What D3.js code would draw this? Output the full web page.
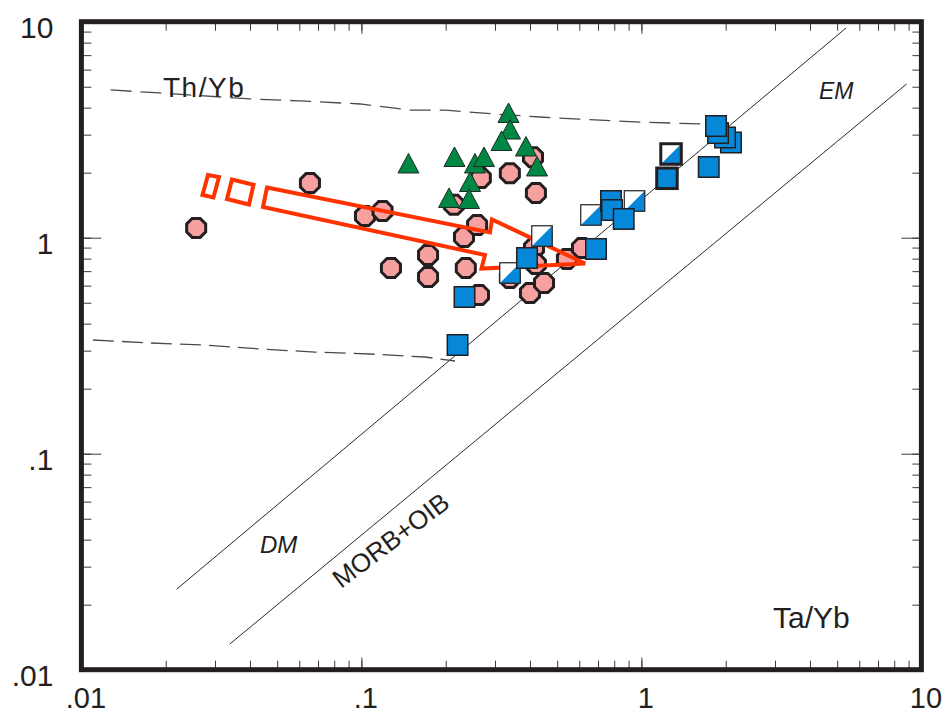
<!DOCTYPE html>
<html>
<head>
<meta charset="utf-8">
<script src="https://cdn.jsdelivr.net/npm/d3@7"></script>
<style>
  html, body { margin: 0; padding: 0; background: #fff; }
  svg { display: block; font-family: "Liberation Sans", Arial, sans-serif; }
</style>
</head>
<body>
<svg id="chart" width="950" height="716"></svg>
<script>
// ---- Ta/Yb vs Th/Yb data ----------------------------------------------
// octagons: [Ta/Yb, Th/Yb]
const octagonSamples = [
  [0.0257, 1.11], [0.0655, 1.79], [0.103, 1.26], [0.119, 1.33],
  [0.1275, 0.724], [0.173, 0.832], [0.173, 0.658], [0.214, 1.42],
  [0.2325, 1.007], [0.259, 1.145], [0.236, 0.724], [0.267, 1.89],
  [0.339, 1.99], [0.410, 2.36], [0.420, 1.61], [0.263, 0.543],
  [0.339, 0.651], [0.400, 0.555], [0.449, 0.617], [0.4135, 0.896],
  [0.420, 0.755], [0.542, 0.797], [0.6135, 0.896]
];

// triangles: [Ta/Yb, Th/Yb]
const triangleSamples = [
  [0.1473, 2.194], [0.2150, 2.351], [0.2545, 2.194], [0.2741, 2.351],
  [0.2443, 1.801], [0.2056, 1.519], [0.2423, 1.503], [0.3353, 3.758],
  [0.3394, 3.151], [0.3166, 2.789], [0.3871, 2.630], [0.4238, 2.125]
];

// filled squares: [Ta/Yb, Th/Yb]
const squareSamples = [
  [2.089, 2.759], [1.989, 2.910], [1.878, 3.052], [1.847, 3.289],
  [1.740, 2.125], [0.7787, 1.479], [0.7852, 1.343], [0.8646, 1.221],
  [0.6885, 0.8866], [0.3903, 0.8054], [0.2335, 0.5315], [0.2205, 0.3186]
];
// filled squares with heavy outline
const squareBoldSamples = [[1.234, 1.884]];

// half-filled squares: [Ta/Yb, Th/Yb]
const halfSquareSamples = [
  [0.6607, 1.274], [0.9450, 1.479], [0.4416, 1.018], [0.3394, 0.6863]
];
const halfSquareBoldSamples = [[1.276, 2.441]];

// mantle array reference lines
const dmLine = [[0.0219, 0.0236], [5.38, 9.35]];
const morbLine = [[0.0339, 0.01315], [8.86, 5.15]];

// dashed envelope, upper and lower
const upperEnvelope = [
  [0.0127, 4.83], [0.019, 4.68], [0.040, 4.39], [0.060, 4.30],
  [0.099, 4.16], [0.149, 3.90], [0.199, 3.90], [0.265, 3.78],
  [0.435, 3.62], [0.60, 3.54], [0.99, 3.43], [1.65, 3.36]
];
const lowerEnvelope = [
  [0.0110, 0.336], [0.0176, 0.3255], [0.0276, 0.3186], [0.0434, 0.3053],
  [0.0683, 0.2956], [0.1073, 0.2894], [0.1687, 0.2803], [0.2159, 0.2686]
];

// trend arrow outline (three pieces)
const arrowTail1 = [[0.02832, 1.951], [0.03101, 1.910], [0.02963, 1.535], [0.02707, 1.576]];
const arrowTail2 = [[0.03450, 1.860], [0.04117, 1.758], [0.03968, 1.424], [0.03311, 1.511]];
const arrowBody = [
  [0.04601, 1.708], [0.2879, 1.057], [0.2927, 1.214], [0.6289, 0.7597],
  [0.2685, 0.720], [0.2763, 0.8317], [0.04452, 1.387]
];

// axis ticks
const xTicks = [0.01, 0.1, 1, 10];
const xTickLabels = [".01", ".1", "1", "10"];
const yTicks = [0.01, 0.1, 1, 10];
const yTickLabels = [".01", ".1", "1", "10"];

// ---- layout -----------------------------------------------------------
const plot = { left: 81.4, right: 921.4, top: 21.7, bottom: 669.7 };
const ink = "#231f20";
const pink = "#f7a0a0";
const green = "#008744";
const blue = "#0687d8";
const arrowRed = "#ff3300";

const svg = d3.select("#chart");

const x = d3.scaleLog().domain([0.01, 10]).range([plot.left, plot.right]);
const y = d3.scaleLog().domain([0.01, 10]).range([plot.bottom, plot.top]);

const minorX = x.ticks();
const minorY = y.ticks();

// ---- axes (ticks on all four sides, pointing inward) -------------------
function styleAxis(g) {
  g.select(".domain").remove();
  g.selectAll(".tick line").attr("stroke", "#3a3a3a").attr("stroke-width", 1);
}

svg.append("g").attr("transform", `translate(0,${plot.bottom})`)
  .call(d3.axisBottom(x).tickValues(minorX).tickSize(-9).tickFormat(""))
  .call(styleAxis);
const xMajor = svg.append("g").attr("transform", `translate(0,${plot.bottom})`)
  .call(d3.axisBottom(x).tickValues(xTicks).tickSize(-12).tickPadding(18)
    .tickFormat((d, i) => xTickLabels[i]))
  .call(styleAxis);
xMajor.selectAll("text")
  .attr("font-size", 29).attr("fill", ink).attr("font-family", "Liberation Sans, Arial, sans-serif")
  .attr("dx", 4);

svg.append("g").attr("transform", `translate(0,${plot.top})`)
  .call(d3.axisTop(x).tickValues(minorX).tickSize(-9).tickFormat(""))
  .call(styleAxis);
svg.append("g").attr("transform", `translate(0,${plot.top})`)
  .call(d3.axisTop(x).tickValues(xTicks).tickSize(-12).tickFormat(""))
  .call(styleAxis);

svg.append("g").attr("transform", `translate(${plot.left},0)`)
  .call(d3.axisLeft(y).tickValues(minorY).tickSize(-10).tickFormat(""))
  .call(styleAxis);
const yMajor = svg.append("g").attr("transform", `translate(${plot.left},0)`)
  .call(d3.axisLeft(y).tickValues(yTicks).tickSize(-20).tickPadding(28)
    .tickFormat((d, i) => yTickLabels[i]))
  .call(styleAxis);
yMajor.selectAll("text")
  .attr("font-size", 30).attr("fill", ink).attr("font-family", "Liberation Sans, Arial, sans-serif")
  .attr("dy", "0.52em");

svg.append("g").attr("transform", `translate(${plot.right},0)`)
  .call(d3.axisRight(y).tickValues(minorY).tickSize(-9).tickFormat(""))
  .call(styleAxis);
svg.append("g").attr("transform", `translate(${plot.right},0)`)
  .call(d3.axisRight(y).tickValues(yTicks).tickSize(-20).tickFormat(""))
  .call(styleAxis);

// ---- reference lines ---------------------------------------------------
const line = d3.line().x(d => x(d[0])).y(d => y(d[1]));

svg.append("path").attr("d", line(dmLine))
  .attr("fill", "none").attr("stroke", "#2a2a2a").attr("stroke-width", 1);
svg.append("path").attr("d", line(morbLine))
  .attr("fill", "none").attr("stroke", "#2a2a2a").attr("stroke-width", 1);

svg.append("path").attr("d", line(upperEnvelope))
  .attr("fill", "none").attr("stroke", "#4a4a4a").attr("stroke-width", 1.3)
  .attr("stroke-dasharray", "21,9");
svg.append("path").attr("d", line(lowerEnvelope))
  .attr("fill", "none").attr("stroke", "#4a4a4a").attr("stroke-width", 1.3)
  .attr("stroke-dasharray", "21,8");

// ---- labels ------------------------------------------------------------
svg.append("text").attr("x", 163).attr("y", 97).text("Th/Yb")
  .attr("font-size", 28).attr("letter-spacing", 1.5).attr("fill", ink);
svg.append("text").attr("x", 773).attr("y", 628).text("Ta/Yb")
  .attr("font-size", 30).attr("fill", ink);
svg.append("text").attr("x", 819).attr("y", 99).text("EM")
  .attr("font-size", 23).attr("font-style", "italic").attr("fill", ink);
svg.append("text").attr("x", 260).attr("y", 553).text("DM")
  .attr("font-size", 24).attr("font-style", "italic").attr("fill", ink);
svg.append("text")
  .attr("transform", "translate(390.5,540) rotate(-37)")
  .attr("text-anchor", "middle").attr("dy", "0.36em")
  .attr("font-size", 26).attr("fill", ink).text("MORB+OIB");

// ---- markers -----------------------------------------------------------
const octR = 10.3;
const octPath = "M" + d3.range(8).map(k => {
  const a = (22.5 + 45 * k) * Math.PI / 180;
  return [octR * Math.cos(a), octR * Math.sin(a)].join(",");
}).join("L") + "Z";

svg.append("g").selectAll("path").data(octagonSamples).join("path")
  .attr("transform", d => `translate(${x(d[0])},${y(d[1])})`)
  .attr("d", octPath)
  .attr("fill", pink).attr("stroke", ink).attr("stroke-width", 3);

const triPath = "M0,-10.5L10.5,9L-10.5,9Z";
svg.append("g").selectAll("path").data(triangleSamples).join("path")
  .attr("transform", d => `translate(${x(d[0])},${y(d[1])})`)
  .attr("d", triPath)
  .attr("fill", green).attr("stroke", "#1f2a22").attr("stroke-width", 1);

// trend arrow
const poly = d3.line().x(d => x(d[0])).y(d => y(d[1])).curve(d3.curveLinearClosed);
[arrowTail1, arrowTail2, arrowBody].forEach(shape => {
  svg.append("path").attr("d", poly(shape))
    .attr("fill", "none").attr("stroke", arrowRed).attr("stroke-width", 4)
    .attr("stroke-linejoin", "miter");
});

const s = 20.5, h = s / 2;
function halfSquares(data, sw) {
  const g = svg.append("g").selectAll("g").data(data).join("g")
    .attr("transform", d => `translate(${x(d[0])},${y(d[1])})`);
  g.append("rect").attr("x", -h).attr("y", -h).attr("width", s).attr("height", s)
    .attr("fill", "#fff");
  g.append("path").attr("d", `M${h},${-h}L${h},${h}L${-h},${h}Z`).attr("fill", blue);
  g.append("rect").attr("x", -h).attr("y", -h).attr("width", s).attr("height", s)
    .attr("fill", "none").attr("stroke", ink).attr("stroke-width", sw);
}
function fullSquares(data, sw) {
  svg.append("g").selectAll("rect").data(data).join("rect")
    .attr("x", d => x(d[0]) - h).attr("y", d => y(d[1]) - h)
    .attr("width", s).attr("height", s)
    .attr("fill", blue).attr("stroke", ink).attr("stroke-width", sw);
}
halfSquares(halfSquareSamples, 1.2);
halfSquares(halfSquareBoldSamples, 3);
fullSquares(squareSamples, 1.5);
fullSquares(squareBoldSamples, 3);

// ---- frame -------------------------------------------------------------
svg.append("rect")
  .attr("x", plot.left).attr("y", plot.top)
  .attr("width", plot.right - plot.left).attr("height", plot.bottom - plot.top)
  .attr("fill", "none").attr("stroke", ink).attr("stroke-width", 5);
</script>
</body>
</html>
